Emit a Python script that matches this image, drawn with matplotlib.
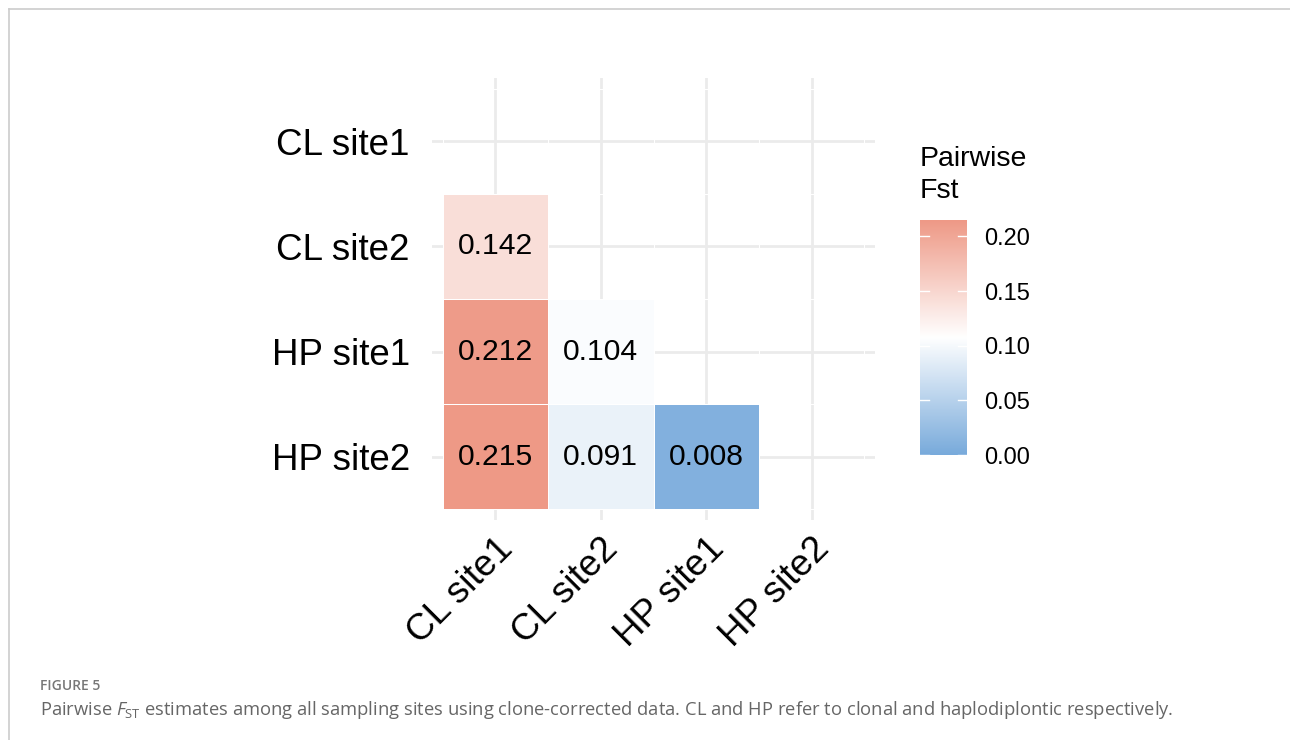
import numpy as np
import matplotlib
matplotlib.use("Agg")
import matplotlib.pyplot as plt
from matplotlib.colors import LinearSegmentedColormap, Normalize
from matplotlib.lines import Line2D

plt.rcParams['font.family'] = ['Liberation Sans', 'DejaVu Sans']
plt.rcParams['mathtext.fontset'] = 'custom'
plt.rcParams['mathtext.rm'] = 'Open Sans'
plt.rcParams['mathtext.it'] = 'Open Sans:italic'

# sampling sites (rows top to bottom, columns left to right)
sites = ["CL site1", "CL site2", "HP site1", "HP site2"]

# lower triangle of the pairwise Fst matrix
fst = np.array([
    [np.nan, np.nan, np.nan, np.nan],
    [0.142,  np.nan, np.nan, np.nan],
    [0.212,  0.104,  np.nan, np.nan],
    [0.215,  0.091,  0.008,  np.nan],
])

cbar_ticks = [0.00, 0.05, 0.10, 0.15, 0.20]
fst_max = 0.215

cmap = LinearSegmentedColormap.from_list(
    "fst", ["#78aadb", "#ffffff", "#ee9986"])
norm = Normalize(vmin=0.0, vmax=fst_max)

fig = plt.figure(figsize=(12.9, 7.4), dpi=100)

# thin frame along top and left edge
fig.add_artist(Line2D([9 / 1290, 9 / 1290], [0, 1 - 9 / 740],
                      transform=fig.transFigure, color="#cccccc", lw=1.2))
fig.add_artist(Line2D([9 / 1290, 1], [1 - 9 / 740, 1 - 9 / 740],
                      transform=fig.transFigure, color="#cccccc", lw=1.2))

ax = fig.add_axes([432 / 1290, 220 / 740, 443 / 1290, 442 / 740])
n = len(sites)
xe = np.arange(n + 1) - 0.5
ax.pcolormesh(xe, xe, np.ma.masked_invalid(fst), cmap=cmap, norm=norm,
              edgecolor="white", linewidth=0.4, zorder=2)

for i in range(n):
    for j in range(n):
        if not np.isnan(fst[i, j]):
            ax.text(j, i, f"{fst[i, j]:.3f}", ha="center", va="center",
                    fontsize=21.7, color="black", zorder=3)

ax.set_xlim(-0.6, n - 0.4)
ax.set_ylim(n - 0.4, -0.6)
ax.set_xticks(range(n))
ax.set_yticks(range(n))
ax.set_xticklabels(sites, rotation=45, ha="right", va="top",
                   rotation_mode="anchor", fontsize=26.5)
ax.set_yticklabels(sites, fontsize=26.5)
ax.tick_params(length=0, pad=8)
ax.tick_params(axis="y", pad=16)
ax.grid(color="#ebebeb", linewidth=2.0)
ax.set_axisbelow(True)
for s in ax.spines.values():
    s.set_visible(False)

# colour bar legend
cax = fig.add_axes([920 / 1290, 285 / 740, 47 / 1290, 235 / 740])
grad = np.linspace(0, fst_max, 256).reshape(-1, 1)
cax.imshow(grad, aspect="auto", cmap=cmap, norm=norm, origin="lower",
           extent=[0, 1, 0, fst_max])
for t in cbar_ticks:
    cax.plot([0, 0.2], [t, t], color="white", lw=1.0)
    cax.plot([0.8, 1], [t, t], color="white", lw=1.0)
cax.set_xlim(0, 1)
cax.set_ylim(0, fst_max)
cax.set_xticks([])
cax.yaxis.tick_right()
cax.set_yticks(cbar_ticks)
cax.set_yticklabels([f"{t:.2f}" for t in cbar_ticks], fontsize=17)
cax.tick_params(length=0, pad=12)
for s in cax.spines.values():
    s.set_visible(False)

fig.text(920 / 1290, 1 - 166 / 740, "Pairwise", fontsize=20.5,
         ha="left", va="baseline")
fig.text(920 / 1290, 1 - 198 / 740, "Fst", fontsize=20.5,
         ha="left", va="baseline")

# caption
fig.text(40 / 1290, 1 - 690 / 740, "FIGURE 5", fontsize=10,
         color="#777777", family="Open Sans", weight="semibold",
         ha="left", va="baseline")
fig.text(40 / 1290, 1 - 715 / 740,
         r"Pairwise $F_{\mathrm{ST}}$ estimates among all sampling sites using "
         "clone-corrected data. CL and HP refer to clonal and haplodiplontic "
         "respectively.",
         fontsize=13.2, color="#666666", family="Open Sans",
         ha="left", va="baseline")

fig.savefig("out.png", dpi=100)
